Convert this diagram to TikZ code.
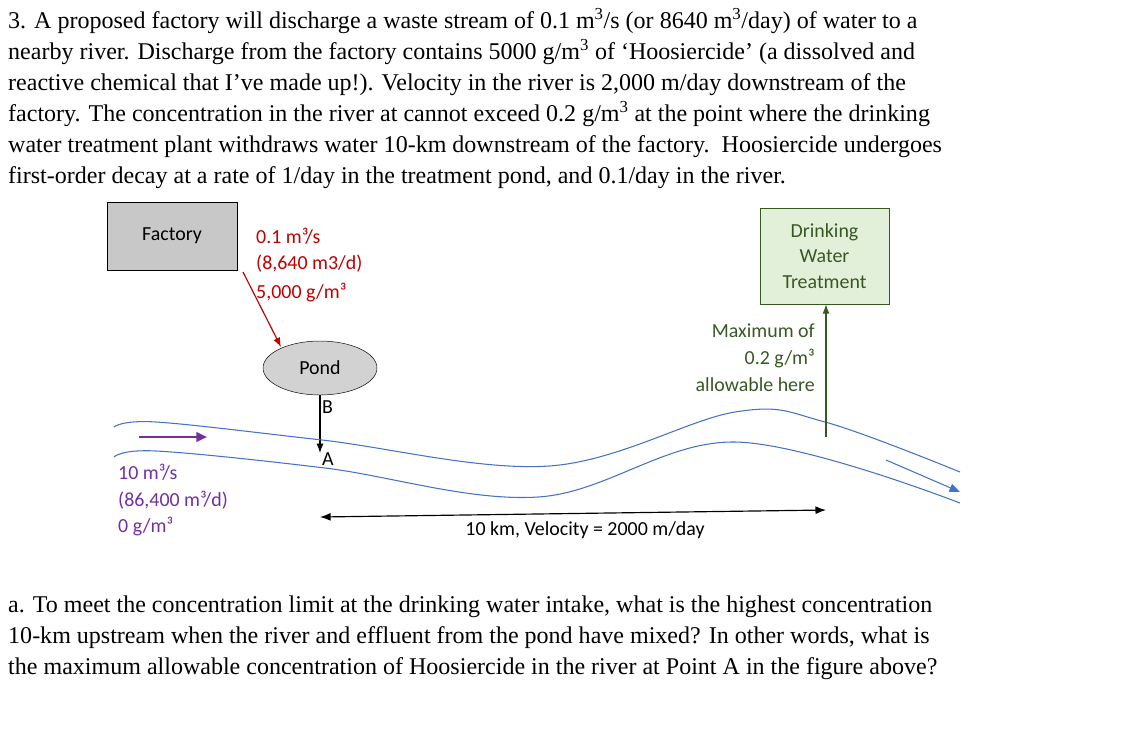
\documentclass[tikz,border=0pt]{standalone}
\usepackage{fontspec}
\setmainfont{Liberation Serif}
\newfontfamily\calfont{Carlito}
\usetikzlibrary{arrows.meta,shapes.geometric}
\definecolor{dred}{RGB}{192,0,0}
\definecolor{dpur}{RGB}{112,48,160}
\definecolor{dblue}{RGB}{68,114,196}
\definecolor{dg}{RGB}{56,87,35}
\definecolor{lgreen}{RGB}{226,240,217}
\definecolor{fgray}{RGB}{200,200,200}
\definecolor{pgray}{RGB}{210,210,210}
\begin{document}
\begin{tikzpicture}[x=0.03cm,y=-0.03cm,
  para/.style={anchor=base west,inner sep=0,font=\fontsize{20.5}{24}\selectfont},
  lab/.style={inner sep=0,font=\calfont\fontsize{17}{20}\selectfont},
  river/.style={draw=dblue,line width=0.9pt}]
\useasboundingbox (0,0) rectangle (1132,746);
\node[para] (p1) at (8,28) {3. A proposed factory will discharge a waste stream of 0.1 m\textsuperscript{3}/s (or 8640 m\textsuperscript{3}/day) of water to a};
\node[para] (p2) at (8,59) {nearby river. Discharge from the factory contains 5000 g/m\textsuperscript{3} of ‘Hoosiercide’ (a dissolved and};
\node[para] (p3) at (8,90) {reactive chemical that I’ve made up!). Velocity in the river is 2,000 m/day downstream of the};
\node[para] (p4) at (8,121) {factory. The concentration in the river at cannot exceed 0.2 g/m\textsuperscript{3} at the point where the drinking};
\node[para] (p5) at (8,152) {water treatment plant withdraws water 10-km downstream of the factory.\ \ Hoosiercide undergoes};
\node[para] (p6) at (8,183) {first-order decay at a rate of 1/day in the treatment pond, and 0.1/day in the river.};
\node[para] (q1) at (8,612) {a. To meet the concentration limit at the drinking water intake, what is the highest concentration};
\node[para] (q2) at (8,643) {10-km upstream when the river and effluent from the pond have mixed? In other words, what is};
\node[para] (q3) at (8,674) {the maximum allowable concentration of Hoosiercide in the river at Point A in the figure above?};
% factory
\node[draw,fill=fgray,minimum width=130*0.03cm,minimum height=68*0.03cm,lab] (fac) at (172,236) {Factory};
\begin{scope}[every node/.style={lab,anchor=west,text=dred}]
\node (r1) at (256,236) {0.1 m³/s};
\node (r2) at (256,264) {(8,640 m3/d)};
\node (r3) at (256,293) {5,000 g/m³};
\end{scope}
\node[draw,ellipse,fill=pgray,minimum width=114*0.03cm,minimum height=54*0.03cm,lab] (pond) at (320,368) {Pond};
\coordinate (rs) at (243,272);
\coordinate (re) at (281,347);
\draw[-{Latex[length=8pt]},line width=1pt,dred] (rs) -- (re);
\coordinate (A) at (320,453);
\draw[-{Latex[length=8pt]},line width=1pt] (pond.south) -- (A);
\node[lab,anchor=west] (lb) at (322,407) {B};
\node[lab,anchor=west] (la) at (322,459) {A};
% river
\draw[river] plot[smooth,tension=0.6] coordinates {(114,427) (156,422) (322,440) (549,466) (735,412) (825,422) (960,472)};
\draw[river] plot[smooth,tension=0.6] coordinates {(114,457) (156,451) (325,468) (538,497) (735,442) (960,503)};
\coordinate (b1) at (886,460); \coordinate (b2) at (960,492);
\draw[river,-{Triangle[length=9pt,width=7pt]}] (b1) -- (b2);
\coordinate (u1) at (139,437); \coordinate (u2) at (207,437);
\draw[-{Triangle[length=9pt,width=8pt]},line width=2pt,dpur] (u1) -- (u2);
\begin{scope}[every node/.style={lab,anchor=west,text=dpur}]
\node (v1) at (118,472) {10 m³/s};
\node (v2) at (118,500) {(86,400 m³/d)};
\node (v3) at (118,527) {0 g/m³};
\end{scope}
\coordinate (d1) at (320,517); \coordinate (d2) at (826,510);
\draw[{Latex[length=9pt]}-{Latex[length=9pt]},line width=1pt] (d1) -- (d2);
\node[lab] (dl) at (585,530) {10 km, Velocity = 2000 m/day};
% drinking water
\node[draw=dg,fill=lgreen,minimum width=129*0.03cm,minimum height=96*0.03cm,lab,text=dg,align=center] (dw) at (824.5,256) {Drinking\\[2pt]Water\\[2pt]Treatment};
\coordinate (g1) at (826,437);
\draw[-{Latex[length=8pt]},line width=1pt,dg] (g1) -- (dw.south -| g1);
\node[lab,text=dg,align=right,anchor=north east] (mx) at (815,324) {Maximum of\\[3pt]0.2 g/m³\\[3pt]allowable here};
\end{tikzpicture}
\end{document}
